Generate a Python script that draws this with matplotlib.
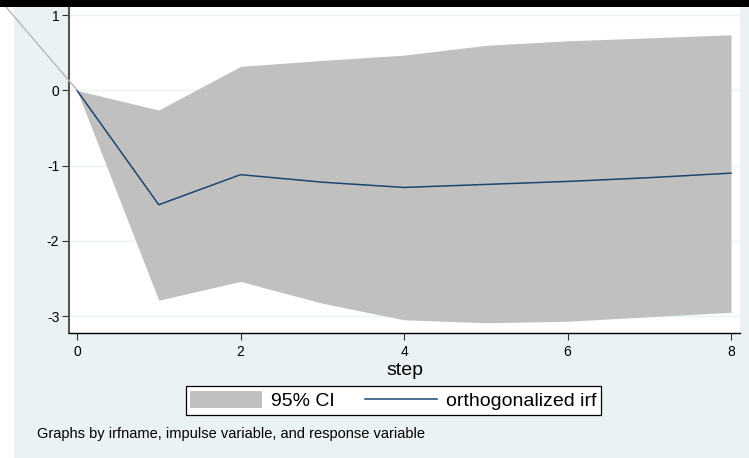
import matplotlib
matplotlib.use("Agg")
import matplotlib.pyplot as plt
from matplotlib.patches import Patch, Rectangle
from matplotlib.lines import Line2D

plt.rcParams['font.family'] = ['Liberation Sans', 'DejaVu Sans']

# impulse response values
steps = [0, 1, 2, 3, 4, 5, 6, 7, 8]
irf = [0, -1.52, -1.12, -1.22, -1.29, -1.25, -1.21, -1.16, -1.10]
ci_upper = [0, -0.26, 0.32, 0.40, 0.47, 0.60, 0.66, 0.70, 0.74]
ci_lower = [0, -2.79, -2.54, -2.83, -3.05, -3.09, -3.07, -3.01, -2.95]
xticks = [0, 2, 4, 6, 8]
yticks = [1, 0, -1, -2, -3]

bg = '#eaf2f3'
W, H = 749, 458
fig = plt.figure(figsize=(W / 100, H / 100), dpi=100, facecolor=bg)

# white left strip and black bar on top (cropped screenshot edges)
fig.patches.append(Rectangle((0, 0), 14 / W, 1, transform=fig.transFigure,
                             facecolor='white', edgecolor='none', zorder=0))
fig.patches.append(Rectangle((0, 1 - 7 / H), 1, 7 / H, transform=fig.transFigure,
                             facecolor='black', edgecolor='none', zorder=5))

ax = fig.add_axes([69 / W, 1 - 333 / H, (740 - 69) / W, (333 - 7) / H])
ax.set_facecolor('white')
ax.fill_between(steps, ci_lower, ci_upper, color='#c0c0c0', linewidth=0, zorder=2)
ax.plot(steps, irf, color='#1a476f', linewidth=1.1, zorder=3)

ax.set_xlim(-0.098, 8.11)
ax.set_ylim(-3.226, 1.11)
ax.set_xticks(xticks)
ax.set_yticks(yticks)
ax.set_yticklabels([str(v) for v in yticks])
ax.tick_params(axis='both', labelsize=10, length=5, width=0.8, color='#333333')
ax.tick_params(axis='y', pad=2)
ax.tick_params(axis='x', pad=4)
ax.grid(axis='y', color='#eaf2f3', linewidth=1.0, zorder=1)
ax.set_axisbelow(True)
for s in ['top', 'right']:
    ax.spines[s].set_visible(False)
ax.spines['left'].set_color('#555555')
ax.spines['left'].set_linewidth(1.5)
ax.spines['bottom'].set_color('black')
ax.spines['bottom'].set_linewidth(1.0)

ax.set_xlabel('step', fontsize=14, labelpad=2)

# stray diagonal line in the top-left corner
fig.add_artist(Line2D([6 / W, 77 / W], [1 - 7 / H, 1 - 90 / H], transform=fig.transFigure,
                      color='#b8b8b8', linewidth=1.0, zorder=4))

handles = [Patch(facecolor='#c0c0c0', edgecolor='none'),
           Line2D([0], [0], color='#1a476f', linewidth=1.1)]
leg = fig.legend(handles, ['95% CI', 'orthogonalized irf'], loc='center',
                 bbox_to_anchor=(393.5 / W, 1 - 400.5 / H), ncol=2, fontsize=14,
                 frameon=True, fancybox=False, edgecolor='black', framealpha=1,
                 handlelength=3.7, handleheight=1.0, handletextpad=0.46,
                 columnspacing=1.55, borderpad=0.25, borderaxespad=0)
leg.get_frame().set_linewidth(0.9)

fig.text(37 / W, 1 - 434 / H, 'Graphs by irfname, impulse variable, and response variable',
         fontsize=10.5, va='center', ha='left')

fig.savefig('out.png', dpi=100, facecolor=bg)
